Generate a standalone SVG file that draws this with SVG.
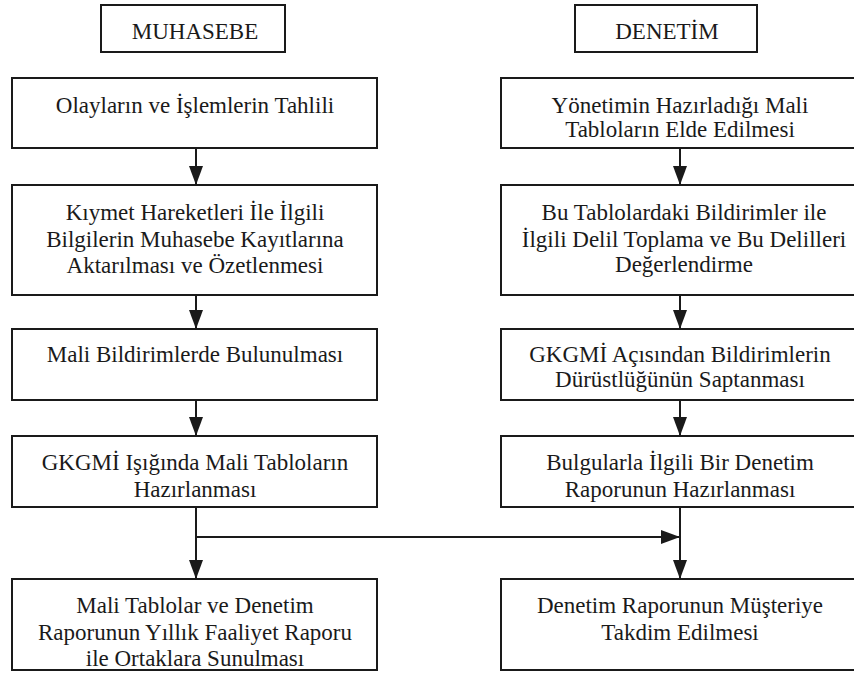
<svg xmlns="http://www.w3.org/2000/svg" width="854" height="673" viewBox="0 0 854 673">
<style>
.box{fill:#fff;stroke:#1a1a1a;stroke-width:2}
.t{font-family:"Liberation Serif",Tinos,"Times New Roman",Times,"DejaVu Serif","Noto Serif",serif;font-size:23px;fill:#1a1a1a;text-anchor:middle}
.c{fill:none;stroke:#1a1a1a;stroke-width:2}
</style>
<defs>
<marker id="ah" markerUnits="userSpaceOnUse" markerWidth="20" markerHeight="16" refX="19" refY="8" orient="auto">
<path d="M0,1 L19,8 L0,15 z" fill="#1a1a1a"/>
</marker>
</defs>
<rect width="854" height="673" fill="#fff"/>
<g id="muhasebe"><rect class="box" x="101" y="5" width="184" height="47"/><text class="t" x="195" y="39">MUHASEBE</text></g>
<g id="denetim"><rect class="box" x="575" y="5" width="182" height="47"/><text class="t" x="667" y="39">DENETİM</text></g>

<g id="l1"><rect class="box" x="12" y="78" width="365" height="70"/><text class="t" x="195" y="113">Olayların ve İşlemlerin Tahlili</text></g>
<g id="l2"><rect class="box" x="12" y="185" width="365" height="110"/><text class="t" x="195" y="220">Kıymet Hareketleri İle İlgili</text><text class="t" x="195" y="246.5">Bilgilerin Muhasebe Kayıtlarına</text><text class="t" x="195" y="273">Aktarılması ve Özetlenmesi</text></g>
<g id="l3"><rect class="box" x="12" y="329" width="365" height="71"/><text class="t" x="195" y="362">Mali Bildirimlerde Bulunulması</text></g>
<g id="l4"><rect class="box" x="12" y="436" width="365" height="71"/><text class="t" x="195" y="470">GKGMİ Işığında Mali Tabloların</text><text class="t" x="195" y="497">Hazırlanması</text></g>
<g id="l5"><rect class="box" x="12" y="579" width="365" height="91"/><text class="t" x="195" y="613">Mali Tablolar ve Denetim</text><text class="t" x="195" y="640">Raporunun Yıllık Faaliyet Raporu</text><text class="t" x="195" y="666">ile Ortaklara Sunulması</text></g>

<g id="r1"><rect class="box" x="501" y="78" width="370" height="70"/><text class="t" x="680" y="113">Yönetimin Hazırladığı Mali</text><text class="t" x="680" y="137">Tabloların Elde Edilmesi</text></g>
<g id="r2"><rect class="box" x="501" y="185" width="370" height="110"/><text class="t" x="684" y="220">Bu Tablolardaki Bildirimler ile</text><text class="t" x="684" y="246.5">İlgili Delil Toplama ve Bu Delilleri</text><text class="t" x="684" y="272">Değerlendirme</text></g>
<g id="r3"><rect class="box" x="501" y="329" width="370" height="71"/><text class="t" x="680" y="362">GKGMİ Açısından Bildirimlerin</text><text class="t" x="680" y="387">Dürüstlüğünün Saptanması</text></g>
<g id="r4"><rect class="box" x="501" y="436" width="370" height="71"/><text class="t" x="680" y="470">Bulgularla İlgili Bir Denetim</text><text class="t" x="680" y="497">Raporunun Hazırlanması</text></g>
<g id="r5"><rect class="box" x="501" y="579" width="370" height="91"/><text class="t" x="680" y="613">Denetim Raporunun Müşteriye</text><text class="t" x="680" y="640">Takdim Edilmesi</text></g>

<g id="connectors">
<line class="c" x1="196" y1="148" x2="196" y2="185" marker-end="url(#ah)"/>
<line class="c" x1="196" y1="295" x2="196" y2="329" marker-end="url(#ah)"/>
<line class="c" x1="196" y1="400" x2="196" y2="436" marker-end="url(#ah)"/>
<line class="c" x1="196" y1="507" x2="196" y2="579" marker-end="url(#ah)"/>
<line class="c" x1="196" y1="537" x2="680" y2="537" marker-end="url(#ah)"/>
<line class="c" x1="680" y1="148" x2="680" y2="185" marker-end="url(#ah)"/>
<line class="c" x1="680" y1="295" x2="680" y2="329" marker-end="url(#ah)"/>
<line class="c" x1="680" y1="400" x2="680" y2="436" marker-end="url(#ah)"/>
<line class="c" x1="680" y1="507" x2="680" y2="579" marker-end="url(#ah)"/>
</g>
</svg>
